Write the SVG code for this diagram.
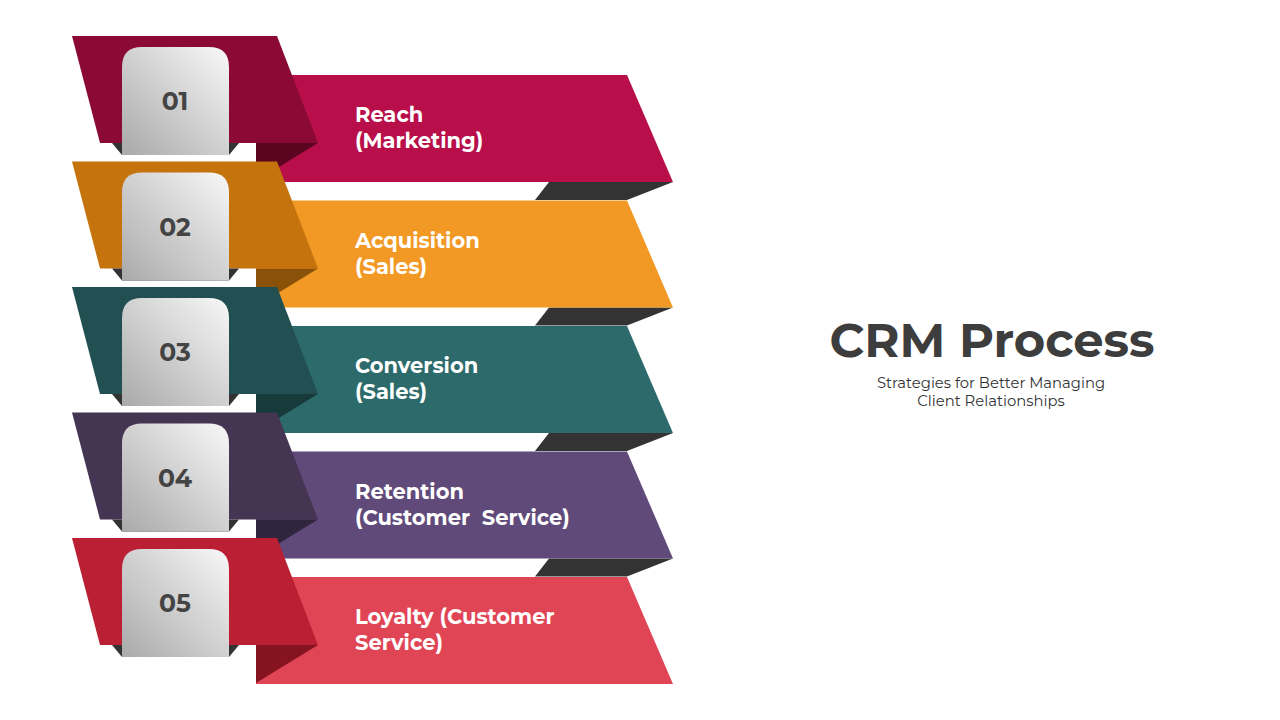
<svg xmlns="http://www.w3.org/2000/svg" width="1280" height="720" viewBox="0 0 1280 720">
<defs>
<linearGradient id="tileGrad" x1="1" y1="0" x2="0" y2="1">
<stop offset="0" stop-color="#f8f8f8"/>
<stop offset="1" stop-color="#a9a9a9"/>
</linearGradient>
<style>
.num{font-family:"Montserrat","Open Sans","Liberation Sans",sans-serif;font-weight:700;font-size:25px;fill:#444;text-anchor:middle}
.lbl{font-family:"Montserrat","Open Sans","Liberation Sans",sans-serif;font-weight:700;font-size:21px;fill:#fff}
.shadow{fill:#333333}
.tile{fill:url(#tileGrad)}
.title{font-family:"Montserrat","Open Sans","Liberation Sans",sans-serif;font-weight:700;font-size:48px;fill:#3d3d3d;text-anchor:middle}
.sub{font-family:"Montserrat","Open Sans","Liberation Sans",sans-serif;font-size:14.8px;fill:#333;text-anchor:middle}
</style>
</defs>
<rect width="1280" height="720" fill="#fff"/>
<g id="connectors">
<path class="shadow" d="M549,182 H673 L627,200 H535 Z"/>
<path class="shadow" d="M549,307.5 H673 L627,325.5 H535 Z"/>
<path class="shadow" d="M549,433 H673 L627,451 H535 Z"/>
<path class="shadow" d="M549,558.5 H673 L627,576.5 H535 Z"/>
</g>
<g id="step1">
<path fill="#b80f4a" d="M256,75 H627 L673,182 H256 Z"/>
<path fill="#5c0520" d="M256,143 H318 L256,181 Z"/>
<path fill="#8b0a35" d="M72,36 H277 L318,143 H100 Z"/>
<path class="shadow" d="M112,143 H239 L229,155 H122 Z"/>
<path class="tile" d="M122,155 V67 Q122,47 142,47 H209 Q229,47 229,67 V155 Z"/>
<text class="num" x="175" y="110">01</text>
<text class="lbl" x="355" y="122">Reach</text>
<text class="lbl" x="355" y="148">(Marketing)</text>
</g>
<g id="step2" transform="translate(0,125.5)">
<path fill="#f29925" d="M256,75 H627 L673,182 H256 Z"/>
<path fill="#8a5208" d="M256,143 H318 L256,181 Z"/>
<path fill="#c5730d" d="M72,36 H277 L318,143 H100 Z"/>
<path class="shadow" d="M112,143 H239 L229,155 H122 Z"/>
<path class="tile" d="M122,155 V67 Q122,47 142,47 H209 Q229,47 229,67 V155 Z"/>
<text class="num" x="175" y="110">02</text>
<text class="lbl" x="355" y="122">Acquisition</text>
<text class="lbl" x="355" y="148">(Sales)</text>
</g>
<g id="step3" transform="translate(0,251)">
<path fill="#2d6a6b" d="M256,75 H627 L673,182 H256 Z"/>
<path fill="#173a3b" d="M256,143 H318 L256,181 Z"/>
<path fill="#225052" d="M72,36 H277 L318,143 H100 Z"/>
<path class="shadow" d="M112,143 H239 L229,155 H122 Z"/>
<path class="tile" d="M122,155 V67 Q122,47 142,47 H209 Q229,47 229,67 V155 Z"/>
<text class="num" x="175" y="110">03</text>
<text class="lbl" x="355" y="122">Conversion</text>
<text class="lbl" x="355" y="148">(Sales)</text>
</g>
<g id="step4" transform="translate(0,376.5)">
<path fill="#604a7a" d="M256,75 H627 L673,182 H256 Z"/>
<path fill="#30253f" d="M256,143 H318 L256,181 Z"/>
<path fill="#443553" d="M72,36 H277 L318,143 H100 Z"/>
<path class="shadow" d="M112,143 H239 L229,155 H122 Z"/>
<path class="tile" d="M122,155 V67 Q122,47 142,47 H209 Q229,47 229,67 V155 Z"/>
<text class="num" x="175" y="110">04</text>
<text class="lbl" x="355" y="122">Retention</text>
<text class="lbl" x="355" y="148" xml:space="preserve">(Customer  Service)</text>
</g>
<g id="step5" transform="translate(0,502)">
<path fill="#e04556" d="M256,75 H627 L673,182 H256 Z"/>
<path fill="#861420" d="M256,143 H318 L256,181 Z"/>
<path fill="#ba1f33" d="M72,36 H277 L318,143 H100 Z"/>
<path class="shadow" d="M112,143 H239 L229,155 H122 Z"/>
<path class="tile" d="M122,155 V67 Q122,47 142,47 H209 Q229,47 229,67 V155 Z"/>
<text class="num" x="175" y="110">05</text>
<text class="lbl" x="355" y="122">Loyalty (Customer</text>
<text class="lbl" x="355" y="148">Service)</text>
</g>
<g id="title">
<text class="title" x="992" y="357">CRM Process</text>
<text class="sub" x="991" y="388">Strategies for Better Managing</text>
<text class="sub" x="991" y="406">Client Relationships</text>
</g>
</svg>
